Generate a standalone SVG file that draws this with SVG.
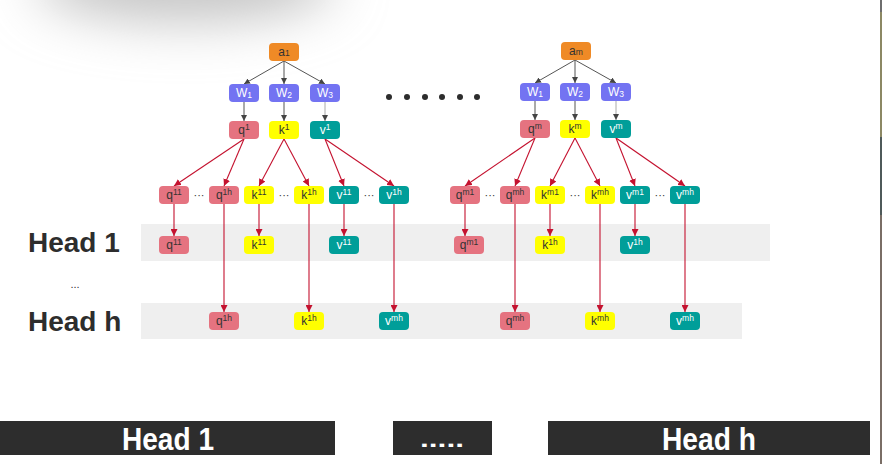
<svg xmlns="http://www.w3.org/2000/svg" width="883" height="464" viewBox="0 0 883 464">
<defs>
<filter id="blur" x="-50%" y="-150%" width="200%" height="400%"><feGaussianBlur stdDeviation="26"/></filter>
<marker id="ag" viewBox="0 0 8 8" refX="8" refY="4" markerWidth="6" markerHeight="6" markerUnits="userSpaceOnUse" orient="auto"><path d="M0,0 L8,4 L0,8 z" fill="#444"/></marker>
<marker id="ar" viewBox="0 0 8 8" refX="8" refY="4" markerWidth="7" markerHeight="7" markerUnits="userSpaceOnUse" orient="auto"><path d="M0,0 L8,4 L0,8 z" fill="#c4122f"/></marker>
<style>
.n rect{rx:4;ry:4}
.a rect{fill:#ef8a26}
.w rect{fill:#7373f2}
.q rect{fill:#e57380}
.k rect{fill:#ffff00}
.v rect{fill:#009e99}
text{font-family:"Liberation Sans",Arial,sans-serif}
.n text{font-size:12px;text-anchor:middle}
.a text,.q text,.k text{fill:#333}
.w text,.v text{fill:#fff}
.s{font-size:8.5px}
.g{stroke:#555;stroke-width:1;fill:none;marker-end:url(#ag)}
.r{stroke:#c4122f;stroke-width:1.1;fill:none;marker-end:url(#ar)}
.dots{font-size:11px;fill:#333;text-anchor:middle}
.head{font-size:28px;font-weight:bold;fill:#2d2d2d}
.bar{fill:#2d2d2d}
.bt{font-size:31px;font-weight:bold;fill:#fff;text-anchor:middle}
</style>
</defs>
<rect width="883" height="464" fill="#ffffff"/>
<ellipse cx="185" cy="-18" rx="150" ry="40" fill="#c4c4c4" filter="url(#blur)"/>
<g id="rightedge">
<rect x="880" y="0" width="2" height="12" fill="#6e6e6e"/>
<rect x="880" y="12" width="2" height="125" fill="#8c8864"/>
<rect x="880" y="137" width="2" height="78" fill="#4f5a5a"/>
<rect x="880" y="215" width="2" height="249" fill="#7a6e66"/>
</g>
<g id="bands">
<rect x="141" y="224" width="629" height="37" fill="#efefef"/>
<rect x="141" y="303" width="601" height="36" fill="#efefef"/>
</g>
<g id="labels">
<text class="head" x="28" y="252">Head 1</text>
<text x="75" y="288" style="font-size:11px;fill:#333;text-anchor:middle">...</text>
<text class="head" x="28" y="331">Head h</text>
</g>
<g id="ellipsis">
<circle cx="389" cy="97" r="3" fill="#2d2d2d"/>
<circle cx="407" cy="97" r="3" fill="#2d2d2d"/>
<circle cx="425" cy="97" r="3" fill="#2d2d2d"/>
<circle cx="442" cy="97" r="3" fill="#2d2d2d"/>
<circle cx="460" cy="97" r="3" fill="#2d2d2d"/>
<circle cx="477" cy="97" r="3" fill="#2d2d2d"/>
</g>
<g id="inner-dots">
<text class="dots" x="199" y="199">···</text>
<text class="dots" x="284" y="199">···</text>
<text class="dots" x="369" y="199">···</text>
<text class="dots" x="490" y="199">···</text>
<text class="dots" x="575" y="199">···</text>
<text class="dots" x="660" y="199">···</text>
</g>
<g id="connectors">
<line class="g" x1="284" y1="61" x2="244" y2="84"/>
<line class="g" x1="284" y1="61" x2="284" y2="84"/>
<line class="g" x1="284" y1="61" x2="325" y2="84"/>
<line class="g" x1="244" y1="102" x2="244" y2="121"/>
<line class="g" x1="284" y1="102" x2="284" y2="121"/>
<line class="g" x1="325" y1="102" x2="325" y2="121" style="stroke:#aaa"/>
<line class="r" x1="244" y1="139" x2="174" y2="186"/>
<line class="r" x1="244" y1="139" x2="224" y2="186"/>
<line class="r" x1="284" y1="139" x2="259" y2="186"/>
<line class="r" x1="284" y1="139" x2="309" y2="186"/>
<line class="r" x1="325" y1="139" x2="344" y2="186"/>
<line class="r" x1="325" y1="139" x2="394" y2="186"/>
<line class="r" x1="174" y1="204" x2="174" y2="236"/>
<line class="r" x1="259" y1="204" x2="259" y2="236"/>
<line class="r" x1="344" y1="204" x2="344" y2="236"/>
<line class="r" x1="224" y1="204" x2="224" y2="312"/>
<line class="r" x1="309" y1="204" x2="309" y2="312"/>
<line class="r" x1="394" y1="204" x2="394" y2="312"/>
<line class="g" x1="575" y1="60" x2="535" y2="83"/>
<line class="g" x1="575" y1="60" x2="575" y2="83"/>
<line class="g" x1="575" y1="60" x2="616" y2="83"/>
<line class="g" x1="535" y1="101" x2="535" y2="120"/>
<line class="g" x1="575" y1="101" x2="575" y2="120"/>
<line class="g" x1="616" y1="101" x2="616" y2="120" style="stroke:#aaa"/>
<line class="r" x1="535" y1="138" x2="465" y2="186"/>
<line class="r" x1="535" y1="138" x2="515" y2="186"/>
<line class="r" x1="575" y1="138" x2="550" y2="186"/>
<line class="r" x1="575" y1="138" x2="600" y2="186"/>
<line class="r" x1="616" y1="138" x2="635" y2="186"/>
<line class="r" x1="616" y1="138" x2="685" y2="186"/>
<line class="r" x1="465" y1="204" x2="465" y2="236"/>
<line class="r" x1="550" y1="204" x2="550" y2="236"/>
<line class="r" x1="635" y1="204" x2="635" y2="236"/>
<line class="r" x1="515" y1="204" x2="515" y2="312"/>
<line class="r" x1="600" y1="204" x2="600" y2="312"/>
<line class="r" x1="685" y1="204" x2="685" y2="312"/>
</g>
<g id="a1" class="n a"><rect x="269" y="43" width="30" height="18"/><text x="284" y="56">a<tspan class="s">1</tspan></text></g>
<g id="w1-1" class="n w"><rect x="229" y="84" width="30" height="18"/><text x="244" y="97">W<tspan class="s" dy="1">1</tspan></text></g>
<g id="w2-1" class="n w"><rect x="269" y="84" width="30" height="18"/><text x="284" y="97">W<tspan class="s" dy="1">2</tspan></text></g>
<g id="w3-1" class="n w"><rect x="310" y="84" width="30" height="18"/><text x="325" y="97">W<tspan class="s" dy="1">3</tspan></text></g>
<g id="q1" class="n q"><rect x="229" y="121" width="30" height="18"/><text x="244" y="134">q<tspan class="s" dy="-4">1</tspan></text></g>
<g id="k1" class="n k"><rect x="269" y="121" width="30" height="18"/><text x="284" y="134">k<tspan class="s" dy="-4">1</tspan></text></g>
<g id="v1" class="n v"><rect x="310" y="121" width="30" height="18"/><text x="325" y="134">v<tspan class="s" dy="-4">1</tspan></text></g>
<g id="q11" class="n q"><rect x="159" y="186" width="30" height="18"/><text x="174" y="199">q<tspan class="s" dy="-4">11</tspan></text></g>
<g id="q1h" class="n q"><rect x="209" y="186" width="30" height="18"/><text x="224" y="199">q<tspan class="s" dy="-4">1h</tspan></text></g>
<g id="k11" class="n k"><rect x="244" y="186" width="30" height="18"/><text x="259" y="199">k<tspan class="s" dy="-4">11</tspan></text></g>
<g id="k1h" class="n k"><rect x="294" y="186" width="30" height="18"/><text x="309" y="199">k<tspan class="s" dy="-4">1h</tspan></text></g>
<g id="v11" class="n v"><rect x="329" y="186" width="30" height="18"/><text x="344" y="199">v<tspan class="s" dy="-4">11</tspan></text></g>
<g id="v1h" class="n v"><rect x="379" y="186" width="30" height="18"/><text x="394" y="199">v<tspan class="s" dy="-4">1h</tspan></text></g>
<g id="h1-q11" class="n q"><rect x="159" y="236" width="30" height="18"/><text x="174" y="249">q<tspan class="s" dy="-4">11</tspan></text></g>
<g id="h1-k11" class="n k"><rect x="244" y="236" width="30" height="18"/><text x="259" y="249">k<tspan class="s" dy="-4">11</tspan></text></g>
<g id="h1-v11" class="n v"><rect x="329" y="236" width="30" height="18"/><text x="344" y="249">v<tspan class="s" dy="-4">11</tspan></text></g>
<g id="hh-q1h" class="n q"><rect x="209" y="312" width="30" height="18"/><text x="224" y="325">q<tspan class="s" dy="-4">1h</tspan></text></g>
<g id="hh-k1h" class="n k"><rect x="294" y="312" width="30" height="18"/><text x="309" y="325">k<tspan class="s" dy="-4">1h</tspan></text></g>
<g id="hh-vmh-l" class="n v"><rect x="379" y="312" width="30" height="18"/><text x="394" y="325">v<tspan class="s" dy="-4">mh</tspan></text></g>
<g id="am" class="n a"><rect x="561" y="42" width="30" height="18"/><text x="576" y="55">a<tspan class="s">m</tspan></text></g>
<g id="w1-m" class="n w"><rect x="520" y="83" width="30" height="18"/><text x="535" y="96">W<tspan class="s" dy="1">1</tspan></text></g>
<g id="w2-m" class="n w"><rect x="560" y="83" width="30" height="18"/><text x="575" y="96">W<tspan class="s" dy="1">2</tspan></text></g>
<g id="w3-m" class="n w"><rect x="601" y="83" width="30" height="18"/><text x="616" y="96">W<tspan class="s" dy="1">3</tspan></text></g>
<g id="qm" class="n q"><rect x="520" y="120" width="30" height="18"/><text x="535" y="133">q<tspan class="s" dy="-4">m</tspan></text></g>
<g id="km" class="n k"><rect x="560" y="120" width="30" height="18"/><text x="575" y="133">k<tspan class="s" dy="-4">m</tspan></text></g>
<g id="vm" class="n v"><rect x="601" y="120" width="30" height="18"/><text x="616" y="133">v<tspan class="s" dy="-4">m</tspan></text></g>
<g id="qm1" class="n q"><rect x="450" y="186" width="30" height="18"/><text x="465" y="199">q<tspan class="s" dy="-4">m1</tspan></text></g>
<g id="qmh" class="n q"><rect x="500" y="186" width="30" height="18"/><text x="515" y="199">q<tspan class="s" dy="-4">mh</tspan></text></g>
<g id="km1" class="n k"><rect x="535" y="186" width="30" height="18"/><text x="550" y="199">k<tspan class="s" dy="-4">m1</tspan></text></g>
<g id="kmh" class="n k"><rect x="585" y="186" width="30" height="18"/><text x="600" y="199">k<tspan class="s" dy="-4">mh</tspan></text></g>
<g id="vm1" class="n v"><rect x="620" y="186" width="30" height="18"/><text x="635" y="199">v<tspan class="s" dy="-4">m1</tspan></text></g>
<g id="vmh" class="n v"><rect x="670" y="186" width="30" height="18"/><text x="685" y="199">v<tspan class="s" dy="-4">mh</tspan></text></g>
<g id="h1-qm1" class="n q"><rect x="454" y="236" width="30" height="18"/><text x="469" y="249">q<tspan class="s" dy="-4">m1</tspan></text></g>
<g id="h1-k1h" class="n k"><rect x="535" y="236" width="30" height="18"/><text x="550" y="249">k<tspan class="s" dy="-4">1h</tspan></text></g>
<g id="h1-v1h" class="n v"><rect x="620" y="236" width="30" height="18"/><text x="635" y="249">v<tspan class="s" dy="-4">1h</tspan></text></g>
<g id="hh-qmh" class="n q"><rect x="500" y="312" width="30" height="18"/><text x="515" y="325">q<tspan class="s" dy="-4">mh</tspan></text></g>
<g id="hh-kmh" class="n k"><rect x="585" y="312" width="30" height="18"/><text x="600" y="325">k<tspan class="s" dy="-4">mh</tspan></text></g>
<g id="hh-vmh" class="n v"><rect x="670" y="312" width="30" height="18"/><text x="685" y="325">v<tspan class="s" dy="-4">mh</tspan></text></g>
<g id="bar-head1"><rect class="bar" x="0" y="421" width="335" height="34"/><text class="bt" x="168" y="450" textLength="92" lengthAdjust="spacingAndGlyphs">Head 1</text></g>
<g id="bar-dots"><rect class="bar" x="393" y="421" width="99" height="34"/><text class="bt" x="442" y="447" style="font-size:22px" textLength="44" lengthAdjust="spacingAndGlyphs">.....</text></g>
<g id="bar-headh"><rect class="bar" x="548" y="421" width="322" height="34"/><text class="bt" x="709" y="450" textLength="94" lengthAdjust="spacingAndGlyphs">Head h</text></g>
</svg>
